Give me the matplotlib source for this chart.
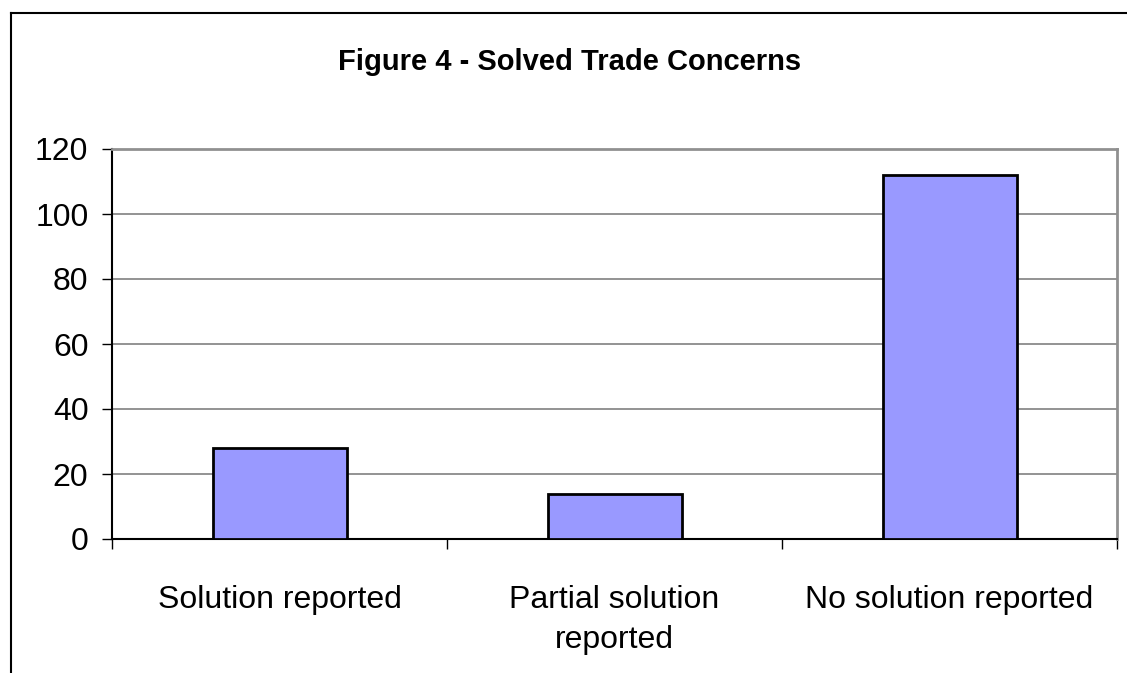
import numpy as np
import matplotlib.pyplot as plt
from matplotlib.lines import Line2D

plt.rcParams['font.family'] = ['Liberation Sans', 'DejaVu Sans']

# Datos
categorias = ['Solution reported', 'Partial solution\nreported', 'No solution reported']
valores = [28, 14, 112]
y_ticks = [0, 20, 40, 60, 80, 100, 120]

fig = plt.figure(figsize=(11.27, 6.73), dpi=100)
ax = fig.add_axes([112 / 1127, 1 - 539 / 673, 1005 / 1127, 390 / 673])

x = np.arange(len(categorias))
ax.bar(x, valores, width=0.4, color='#9999ff', edgecolor='black', linewidth=2, zorder=3)

ax.set_xlim(-0.5, len(categorias) - 0.5)
ax.set_ylim(0, 120)
ax.set_yticks(y_ticks)
ax.set_yticklabels([str(v) for v in y_ticks], fontsize=23)
ax.yaxis.grid(True, color='#808080', linewidth=1.2, zorder=0)

# ticks del eje x en los limites de las categorias
ax.set_xticks(np.arange(-0.5, len(categorias), 1.0))
ax.set_xticklabels([])
ax.tick_params(axis='x', length=7, width=1, color='black', direction='out')
ax.tick_params(axis='y', length=7, width=1, color='black', direction='out', pad=10)
for i, c in enumerate(categorias):
    ax.text(i, -0.118, c, transform=ax.get_xaxis_transform(), ha='center', va='top',
            fontsize=23, linespacing=1.45)

for lado in ['left', 'bottom']:
    ax.spines[lado].set_color('black')
    ax.spines[lado].set_linewidth(1.5)
for lado in ['top', 'right']:
    ax.spines[lado].set_color('#909090')
    ax.spines[lado].set_linewidth(2)

fig.text(570 / 1127, 1 - 62 / 673, 'Figure 4 - Solved Trade Concerns', ha='center', va='center',
         fontsize=21, fontweight='bold')

# marco exterior
fig.add_artist(Line2D([11 / 1127, 11 / 1127], [0, 1 - 13 / 673], transform=fig.transFigure,
                      color='black', linewidth=1.5))
fig.add_artist(Line2D([11 / 1127, 1], [1 - 13 / 673, 1 - 13 / 673], transform=fig.transFigure,
                      color='black', linewidth=1.5))

fig.savefig('out.png', dpi=100)
